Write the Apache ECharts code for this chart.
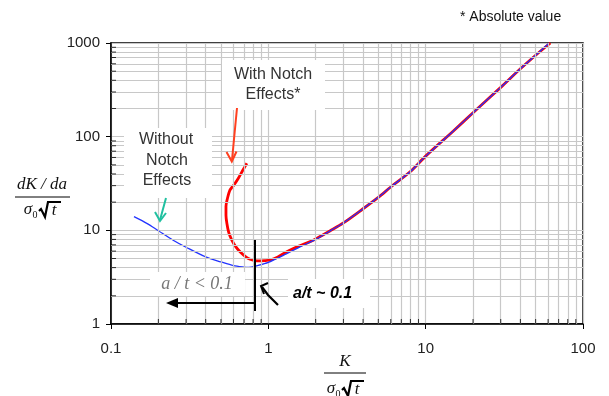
<!DOCTYPE html>
<html>
<head>
<meta charset="utf-8">
<script src="https://cdn.jsdelivr.net/npm/echarts@6/dist/echarts.min.js"></script>
<style>
  html, body { margin: 0; padding: 0; background: #fff; }
  #chart { width: 609px; height: 396px; }
</style>
</head>
<body>
<div id="chart"></div>
<script>
// curve without notch effects (K / σ0√t , dK/da / σ0√t)
const noNotchK   = [0.14, 0.17, 0.2, 0.25, 0.3, 0.4, 0.5, 0.6, 0.7, 0.75, 0.85, 1.0, 1.3, 1.6, 2.0, 2.5, 3, 4, 5, 6, 8, 10, 15, 20, 30, 40, 50, 61];
const noNotchVal = [14, 11.8, 9.9, 7.8, 6.6, 5.2, 4.6, 4.2, 4.05, 4.02, 4.2, 4.55, 5.6, 6.7, 8.0, 10, 12, 17, 22.5, 29, 42.5, 62, 115, 180, 336, 530, 740, 1000];

// curve with notch effects (absolute value), hooks back near K ~ 0.55
const notchK   = [0.73, 0.69, 0.645, 0.6, 0.571, 0.55, 0.538, 0.538, 0.545, 0.56, 0.585, 0.62, 0.661, 0.7, 0.746, 0.8, 0.844, 0.95, 1.025, 1.15, 1.31, 1.5, 1.75, 2.0, 2.5, 3, 4, 5, 6, 8, 10, 15, 20, 30, 40, 50, 62];
const notchVal = [52, 44, 36, 30, 27, 22, 18, 14.5, 11.9, 9.5, 7.9, 6.7, 5.9, 5.4, 5.0, 4.8, 4.72, 4.75, 4.82, 5.2, 5.9, 6.6, 7.3, 8.1, 10, 12, 17, 22.5, 29, 42.5, 62, 115, 180, 336, 530, 740, 1000];

// minor grid / tick positions on the log axes
const minorX = [0.2, 0.3, 0.4, 0.5, 0.6, 0.7, 0.8, 0.9, 2, 3, 4, 5, 6, 7, 8, 9, 20, 30, 40, 50, 60, 70, 80, 90];
const minorY = [2, 3, 4, 5, 6, 7, 8, 9, 20, 30, 40, 50, 60, 70, 80, 90, 200, 300, 400, 500, 600, 700, 800, 900];

const SANS = '"Liberation Sans", Arial, sans-serif';
const SERIF = '"Liberation Serif", "Times New Roman", serif';
const GRIDC = '#c8c8c8';

function denom(cx, cy) {
  return [
    { type: 'text', x: cx - 14, y: cy, style: { text: 'σ', font: 'italic 17px ' + SERIF, fill: '#111', align: 'center', verticalAlign: 'middle' } },
    { type: 'text', x: cx - 7, y: cy + 5, style: { text: '0', font: '10px ' + SERIF, fill: '#111', align: 'center', verticalAlign: 'middle' } },
    { type: 'polyline', shape: { points: [[cx - 3, cy + 1], [cx - 1, cy - 1], [cx + 3, cy + 7], [cx + 6, cy - 8], [cx + 19, cy - 8]] },
      style: { stroke: '#000', lineWidth: 2.2, fill: null } },
    { type: 'text', x: cx + 12, y: cy + 1, style: { text: 't', font: 'italic 17px ' + SERIF, fill: '#111', align: 'center', verticalAlign: 'middle' } }
  ];
}

function line(x1, y1, x2, y2, color, w) {
  return { type: 'line', shape: { x1: x1, y1: y1, x2: x2, y2: y2 }, style: { stroke: color, lineWidth: w } };
}

function label(x, y, text, font, fill, align) {
  return { type: 'text', x: x, y: y, style: { text: text, font: font, fill: fill, align: align || 'center', verticalAlign: 'middle' } };
}

function whiteBox(x, y, w, h) {
  return { type: 'rect', shape: { x: x, y: y, width: w, height: h }, style: { fill: '#fff' } };
}

let annotations = [
  label(460, 17, '* Absolute value', '14px ' + SANS, '#111', 'left'),

  // y axis title
  label(42, 185, 'dK / da', 'italic 17px ' + SERIF, '#111'),
  line(15, 197, 70, 197, '#000', 1),
  ...denom(42, 210),

  // x axis title
  label(345, 362, 'K', 'italic 17px ' + SERIF, '#111'),
  line(324, 373, 366, 373, '#000', 1),
  ...denom(345, 389),

  // "With Notch Effects*"
  whiteBox(222, 60, 103, 50),
  label(273, 75, 'With Notch', '16px ' + SANS, '#333'),
  label(273, 95, 'Effects*', '16px ' + SANS, '#333'),
  line(237, 108, 232, 160, '#ff4020', 2),
  { type: 'polyline', shape: { points: [[226.5, 152], [231.8, 161.5], [236.5, 151.5]] }, style: { stroke: '#ff4020', lineWidth: 2, fill: null } },

  // "Without Notch Effects"
  whiteBox(124, 128, 88, 70),
  label(166, 140, 'Without', '16px ' + SANS, '#333'),
  label(167, 161, 'Notch', '16px ' + SANS, '#333'),
  label(167, 181, 'Effects', '16px ' + SANS, '#333'),
  line(166, 198, 160, 220, '#20c0a0', 2),
  { type: 'polyline', shape: { points: [[155, 212], [160, 221], [166, 213]] }, style: { stroke: '#20c0a0', lineWidth: 2, fill: null } },

  // a/t limit
  whiteBox(150, 272, 95, 24),
  label(197, 284, 'a / t < 0.1', 'italic 18px ' + SERIF, '#777'),
  line(255, 240, 255, 311, '#000', 2),
  line(255, 303, 174, 303, '#000', 2),
  { type: 'polygon', shape: { points: [[166, 303], [178, 298], [178, 308]] }, style: { fill: '#000' } },

  whiteBox(288, 279, 82, 29),
  label(293, 294, 'a/t ~ 0.1', 'italic bold 16px ' + SANS, '#000', 'left'),
  { type: 'polyline', shape: { points: [[268, 283], [261, 286], [264, 294]] }, style: { stroke: '#000', lineWidth: 2, fill: null } },
  { type: 'polyline', shape: { points: [[262, 287], [268, 295], [278, 305]] }, style: { stroke: '#000', lineWidth: 2.2, fill: null } }
];
annotations.forEach(function (g) { g.z = 10; });

const chart = echarts.init(document.getElementById('chart'), null, { renderer: 'canvas' });

const axisCommon = {
  type: 'log',
  logBase: 10,
  axisLine: { show: true, lineStyle: { color: '#000', width: 1.5 } },
  axisTick: { show: true, inside: false, length: 5, lineStyle: { color: '#000', width: 1 } },
  splitLine: { show: true, lineStyle: { color: GRIDC, width: 1.2 } },
  minorTick: { show: false },
  minorSplitLine: { show: false },
  axisLabel: {
    color: '#222', fontSize: 15, fontFamily: SANS,
    showMinLabel: true, showMaxLabel: true,
    formatter: function (v) { return String(+Number(v).toPrecision(3)); }
  }
};

chart.setOption({
  animation: false,
  backgroundColor: '#fff',
  grid: {
    left: 111, right: 26, top: 43, bottom: 72,
    show: true, borderColor: '#000', borderWidth: 1.5, backgroundColor: 'transparent',
    containLabel: false, outerBoundsMode: 'none'
  },
  xAxis: Object.assign({}, axisCommon, {
    min: 0.1, max: 100,
    axisLabel: Object.assign({}, axisCommon.axisLabel, { margin: 17 })
  }),
  yAxis: Object.assign({}, axisCommon, {
    min: 1, max: 1000,
    axisLabel: Object.assign({}, axisCommon.axisLabel, { margin: 11 })
  }),
  graphic: annotations,
  series: [
    {
      // minor grid lines
      type: 'line',
      data: [[0.1, 1]],
      showSymbol: false,
      lineStyle: { width: 0 },
      silent: true,
      z: 1,
      markLine: {
        silent: true,
        symbol: 'none',
        animation: false,
        label: { show: false },
        lineStyle: { color: GRIDC, width: 1.2, type: 'solid' },
        data: minorX.map(function (v) { return { xAxis: v }; })
          .concat(minorY.map(function (v) { return { yAxis: v }; }))
      }
    },
    {
      name: 'With Notch Effects',
      type: 'line',
      data: notchK.map(function (k, i) { return [k, notchVal[i]]; }),
      showSymbol: false,
      smooth: 0.3,
      lineStyle: { color: '#ff0000', width: 2.8 },
      z: 3
    },
    {
      name: 'Without Notch Effects',
      type: 'line',
      data: noNotchK.map(function (k, i) { return [k, noNotchVal[i]]; }),
      showSymbol: false,
      smooth: 0.3,
      lineStyle: { color: '#2233ff', width: 1.3 },
      z: 4
    },
    {
      // inside minor ticks, left axis
      type: 'scatter',
      data: minorY.map(function (v) { return [0.1, v]; }),
      symbol: 'rect',
      symbolSize: [5, 1],
      symbolOffset: [2.5, 0],
      itemStyle: { color: '#000' },
      silent: true,
      clip: false,
      z: 5
    },
    {
      // inside minor ticks, bottom axis
      type: 'scatter',
      data: minorX.map(function (v) { return [v, 1]; }),
      symbol: 'rect',
      symbolSize: [1, 5],
      symbolOffset: [0, -2.5],
      itemStyle: { color: '#000' },
      silent: true,
      clip: false,
      z: 5
    }
  ]
});
</script>
</body>
</html>
